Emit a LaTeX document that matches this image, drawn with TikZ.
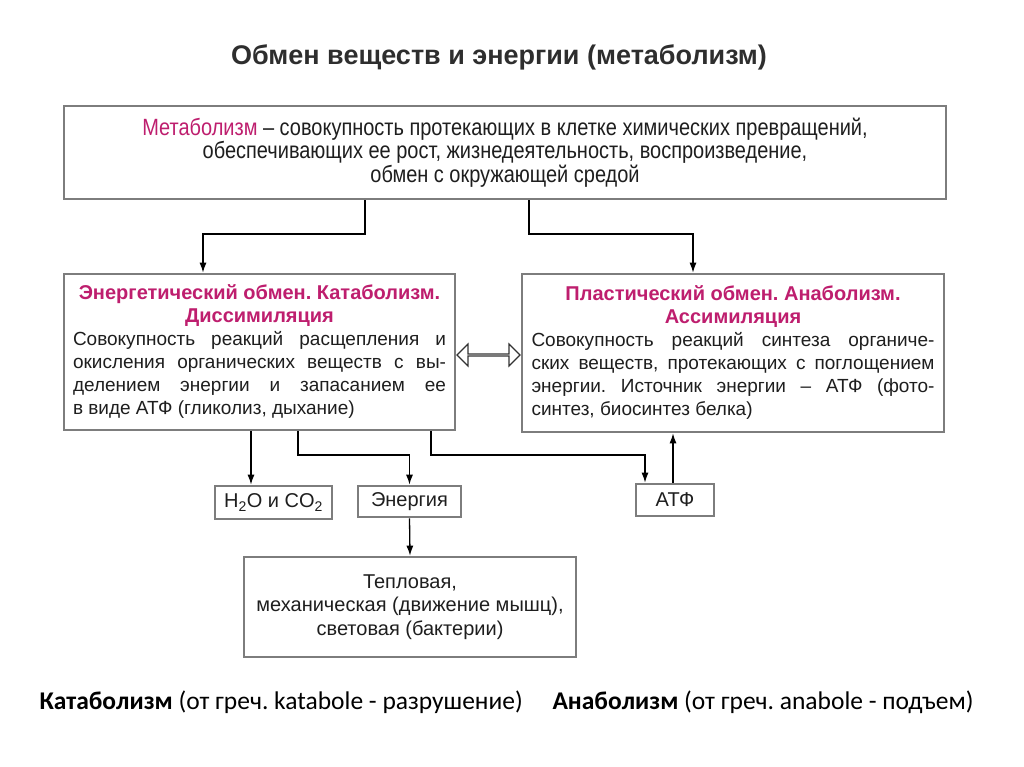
\documentclass[tikz,border=0pt]{standalone}
\usepackage{fontspec}
\setmainfont{Liberation Sans}
\newfontfamily\narrowfont[FakeStretch=0.85]{Liberation Sans}
\newfontfamily\calfont{Carlito}
\usepackage{tikz}
\usetikzlibrary{positioning, calc, arrows.meta, shapes.arrows}
\definecolor{magT}{RGB}{190,30,110}
\definecolor{txtT}{RGB}{30,30,30}
\definecolor{brdT}{RGB}{125,125,125}
\newcommand{\jl}[1]{\makebox[373pt][s]{#1}}
\newcommand{\jr}[1]{\makebox[403pt][s]{#1}}
\newcommand{\hd}[1]{{\bfseries\color{magT}\fontsize{20}{22}\selectfont #1}}
\frenchspacing

\begin{document}
\begin{tikzpicture}[x=1pt, y=-1pt, >={Latex[length=10pt,width=7pt]},
    box/.style={draw=brdT, line width=2.6pt, fill=white, inner sep=0pt,
        text=txtT, align=center, font=\fontsize{20}{23.5}\selectfont},
    txtbox/.style={box, font=\fontsize{19}{23}\selectfont},
    arr/.style={->, line width=1.3pt, black}]

    \useasboundingbox (0,0) rectangle (1024,767);

    % title
    \node[font=\bfseries\fontsize{27}{30}\selectfont, text=black!82] (ttl) at (499,57)
        {Обмен веществ и энергии (метаболизм)};

    % main boxes
    \node[box, minimum width=882pt, minimum height=93pt,
        font=\narrowfont\fontsize{23.5}{23.5}\selectfont] (met) at (505,152.5)
        {{\color{magT}Метаболизм} – совокупность протекающих в клетке химических превращений,\\
         обеспечивающих ее рост, жизнедеятельность, воспроизведение,\\
         обмен с окружающей средой};
    \node[txtbox, minimum width=391pt, minimum height=156pt] (cat) at (259.5,352)
        {\hd{Энергетический обмен. Катаболизм.}\\ \hd{Диссимиляция}\\
         \jl{Совокупность реакций расщепления и}\\
         \jl{окисления органических веществ с вы-}\\
         \jl{делением энергии и запасанием ее}\\
         \makebox[373pt][l]{в виде АТФ (гликолиз, дыхание)}};
    \node[txtbox, minimum width=422pt, minimum height=158pt] (ana) at (733,353)
        {\hd{Пластический обмен. Анаболизм.}\\ \hd{Ассимиляция}\\
         \jr{Совокупность реакций синтеза органиче-}\\
         \jr{ских веществ, протекающих с поглощением}\\
         \jr{энергии. Источник энергии – АТФ (фото-}\\
         \makebox[403pt][l]{синтез, биосинтез белка)}};
    \node[double arrow, draw=black!80, line width=1.2pt, fill=white,
        minimum height=63pt, minimum width=22pt, inner sep=0pt,
        double arrow head extend=6.5pt] (dbl) at (488.5,355) {};

    % small boxes
    \node[box, minimum width=117pt, minimum height=33pt] (gas) at (273.5,502.5)
        {H\textsubscript{2}O и CO\textsubscript{2}};
    \node[box, minimum width=103pt, minimum height=31pt] (en) at (409.5,501.5) {Энергия};
    \node[box, minimum width=78pt, minimum height=32pt] (atp) at (675,500) {АТФ};
    \node[box, minimum width=332pt, minimum height=100pt] (forms) at (410,607)
        {Тепловая,\\ механическая (движение мышц),\\ световая (бактерии)};

    % connectors
    \coordinate (ja) at (365,234);
    \coordinate (jb) at (529,234);
    \coordinate (kl) at (203,234);
    \coordinate (kr) at (693,234);
    \draw[arr] (met.south -| ja) -- (ja) -- (kl) -- (cat.north -| kl);
    \draw[arr] (met.south -| jb) -- (jb) -- (kr) -- (ana.north -| kr);

    \coordinate (b1) at (251,455);
    \coordinate (b2) at (298,455);
    \coordinate (b2e) at (409.5,455);
    \coordinate (b3) at (431,455);
    \coordinate (b3e) at (645,455);
    \coordinate (b4) at (673,455);
    \draw[arr] (cat.south -| b1) -- (gas.north -| b1);
    \draw[arr] (cat.south -| b2) -- (b2) -- (b2e) -- (en.north);
    \draw[arr] (cat.south -| b3) -- (b3) -- (b3e) -- (atp.north -| b3e);
    \draw[arr] (atp.north -| b4) -- (ana.south -| b4);
    \draw[arr] (en.south) -- (forms.north);

    % footnotes
    \node[font=\calfont\fontsize{25.5}{30}\selectfont, anchor=west] (katab) at (36,702)
        {\textbf{Катаболизм} (от греч. katabole - разрушение)};
    \node[font=\calfont\fontsize{25.5}{30}\selectfont, anchor=west] (anab) at (549,702)
        {\textbf{Анаболизм} (от греч. anabole - подъем)};

\end{tikzpicture}
\end{document}
